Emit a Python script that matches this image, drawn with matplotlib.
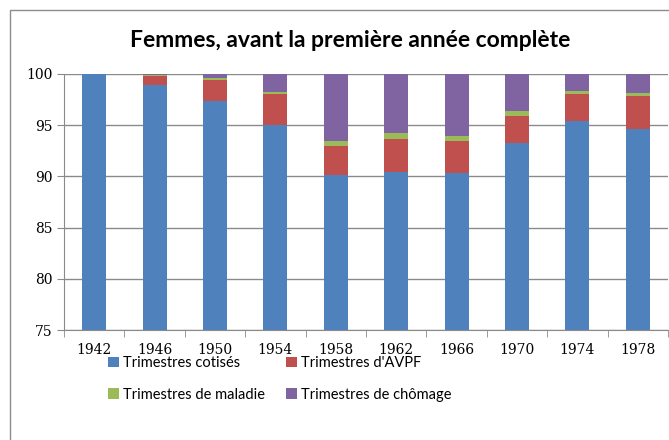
import numpy as np
import matplotlib
matplotlib.use("Agg")
import matplotlib.pyplot as plt
from matplotlib.patches import Rectangle

# data
years = ["1942", "1946", "1950", "1954", "1958", "1962", "1966", "1970", "1974", "1978"]
cotises = [100.0, 98.9, 97.4, 95.0, 90.1, 90.4, 90.3, 93.3, 95.4, 94.6]
avpf = [0.0, 0.9, 2.05, 3.0, 2.9, 3.25, 3.2, 2.6, 2.65, 3.2]
maladie = [0.0, 0.1, 0.15, 0.2, 0.5, 0.55, 0.45, 0.5, 0.25, 0.35]
chomage = [0.0, 0.1, 0.4, 1.8, 6.5, 5.8, 6.05, 3.6, 1.7, 1.85]
series_names = ["Trimestres cotisés", "Trimestres d'AVPF",
                "Trimestres de maladie", "Trimestres de chômage"]
colors = ["#4F81BD", "#C0504D", "#9BBB59", "#8064A2"]

fig = plt.figure(figsize=(6.69, 4.40), dpi=100)
ax = fig.add_axes([0.0957, 0.25, 0.9028, 0.582])

# outer chart border
fig.patches.append(Rectangle((10 / 669, -0.05), 1.0, 430 / 440 + 0.05,
                             transform=fig.transFigure, fill=False,
                             edgecolor="#8c8c8c", linewidth=1.0))

x = np.arange(len(years))
bottom = np.zeros(len(years))
handles = []
for vals, name, c in zip([cotises, avpf, maladie, chomage], series_names, colors):
    vals = np.array(vals)
    h = ax.bar(x, vals, width=0.4, bottom=bottom, color=c, label=name, zorder=2)
    handles.append(h)
    bottom += vals

ax.set_ylim(75, 100)
ax.set_xlim(-0.5, len(years) - 0.5)
ax.set_yticks(np.arange(75, 101, 5))
ax.yaxis.grid(True, color="#8a8a8a", linewidth=1.0, zorder=0)
ax.set_axisbelow(True)

ax.set_xticks(x)
ax.set_xticklabels(years)
ax.set_xticks(np.arange(-0.5, len(years)), minor=True)
ax.tick_params(axis="x", which="major", length=0, pad=9)
ax.tick_params(axis="x", which="minor", length=5, color="#8a8a8a")
ax.tick_params(axis="y", length=5, color="#8a8a8a", pad=3)
for lab in ax.get_xticklabels() + ax.get_yticklabels():
    lab.set_family("DejaVu Serif")
    lab.set_fontsize(10)

for s in ["top", "right"]:
    ax.spines[s].set_visible(False)
for s in ["left", "bottom"]:
    ax.spines[s].set_color("#8a8a8a")

fig.text(0.523, 0.908, "Femmes, avant la première année complète",
         ha="center", va="center", fontsize=16.5, fontweight="bold",
         family=["Lato", "DejaVu Sans"])

# legend filled column by column -> order so rows read like the reference
order = [0, 2, 1, 3]
fig.legend(handles=[handles[i] for i in order],
           labels=[series_names[i] for i in order], ncol=2, loc="center",
           bbox_to_anchor=(0.418, 0.139), frameon=False,
           prop={"family": ["Lato", "DejaVu Sans"], "size": 10.5},
           handlelength=0.75, handleheight=0.75, handletextpad=0.3,
           columnspacing=1.4, labelspacing=1.2)

fig.savefig("out.png", dpi=100)
